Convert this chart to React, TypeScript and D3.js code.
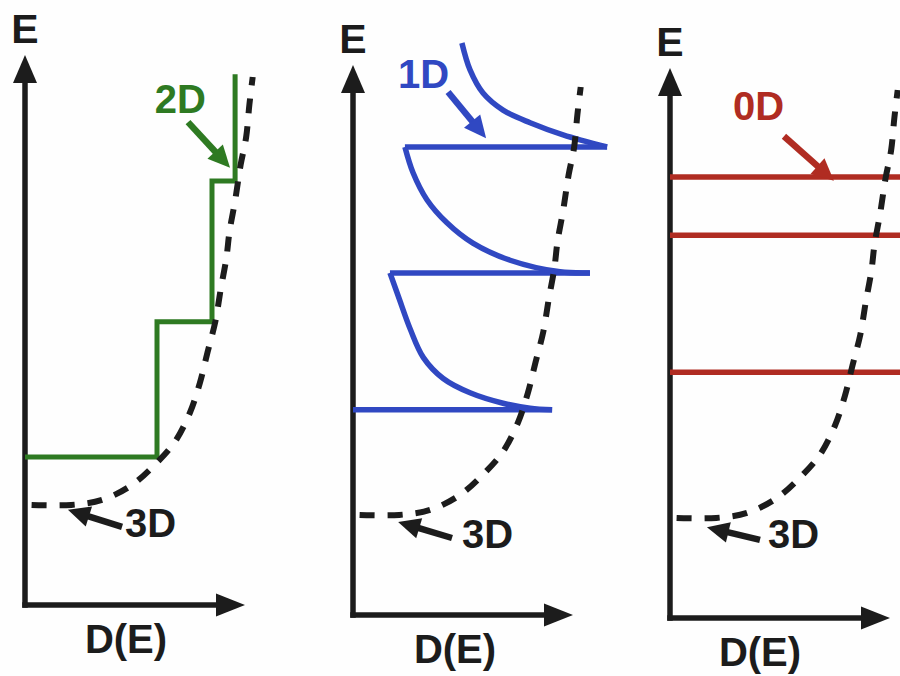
import React from "react";
import * as d3 from "d3";

const W = 900;
const H = 676;

// every panel: D(E) axis 0..10, E axis 0..10
// 3D density of states [D, E] (same shape in each panel)
const dos3D = [
  [0.3, 1.82], [2.1, 1.82], [3.5, 1.91], [4.85, 2.18], [5.9, 2.55], [6.8, 2.96],
  [7.5, 3.5], [7.95, 4.04], [8.3, 4.6], [8.65, 5.15], [8.9, 5.75], [9.15, 6.3],
  [9.3, 6.8], [9.55, 7.35], [9.8, 8.0], [10.05, 8.5], [10.2, 9.1], [10.35, 9.6],
];

// 2D: step edges and step widths
const stepE = [2.69, 5.15, 7.71];
const stepD = [6.0, 8.5, 9.55];
const stepTopE = 9.65;

// 1D: subband energies, where each flat line starts and ends
const bandE = [3.73, 6.22, 8.51];
const bandStartD = [0, 1.68, 2.36];
const bandEndD = [9.05, 10.77, 11.55];
// 1D tails above each subband [D, E]
const tails1D = [
  [[9.05, 3.73], [8.05, 3.76], [6.82, 3.85], [5.32, 4.04], [4.1, 4.3], [3.2, 4.68], [2.6, 5.2], [2.1, 5.75], [1.68, 6.22]],
  [[10.77, 6.22], [9.41, 6.24], [7.14, 6.45], [5.45, 6.76], [4.27, 7.13], [3.36, 7.55], [2.73, 8.04], [2.36, 8.51]],
  [[11.55, 8.51], [9.55, 8.73], [8.05, 8.95], [6.82, 9.18], [5.91, 9.49], [5.32, 9.91], [4.95, 10.4]],
];

// 0D: discrete levels
const levels0D = [4.47, 6.96, 8.02];

// labels: text, text anchor [D, E], arrow from [D, E] to [D, E]
const labels = [
  [
    { text: "2D", at: [5.9, 8.95], from: [7.41, 8.78], to: [9.32, 7.95], kind: "2D" },
    { text: "3D", at: [4.55, 1.24], from: [4.41, 1.42], to: [1.95, 1.73], kind: "3D" },
  ],
  [
    { text: "1D", at: [2.05, 9.58], from: [4.32, 9.51], to: [6.05, 8.67], kind: "1D" },
    { text: "3D", at: [4.95, 1.22], from: [4.5, 1.4], to: [2.05, 1.69], kind: "3D" },
  ],
  [
    { text: "0D", at: [2.86, 9.05], from: [5.18, 8.76], to: [7.45, 7.95], kind: "0D" },
    { text: "3D", at: [4.45, 1.27], from: [4.09, 1.42], to: [1.68, 1.65], kind: "3D" },
  ],
];

const colors: Record<string, string> = {
  "3D": "#1c1c1c",
  "2D": "#2e7a22",
  "1D": "#3048c2",
  "0D": "#b02c22",
};

const panels = [
  { ox: 25, oy: 605, labelDx: 101 },
  { ox: 353, oy: 615, labelDx: 102 },
  { ox: 670, oy: 618, labelDx: 90 },
];

const font = "'Liberation Sans', Arial, sans-serif";

function arrow(x1: number, y1: number, x2: number, y2: number, len: number, hw: number) {
  const a = Math.atan2(y2 - y1, x2 - x1);
  const bx = x2 - len * Math.cos(a);
  const by = y2 - len * Math.sin(a);
  const px = -Math.sin(a) * hw;
  const py = Math.cos(a) * hw;
  return {
    shaft: [x1, y1, bx + Math.cos(a) * 2, by + Math.sin(a) * 2],
    head: `${x2},${y2} ${bx + px},${by + py} ${bx - px},${by - py}`,
  };
}

function Arrow({ x1, y1, x2, y2, color, width, len, hw }: any) {
  const a = arrow(x1, y1, x2, y2, len, hw);
  return (
    <g>
      <line x1={a.shaft[0]} y1={a.shaft[1]} x2={a.shaft[2]} y2={a.shaft[3]} stroke={color} strokeWidth={width} />
      <polygon points={a.head} fill={color} />
    </g>
  );
}

function Panel({ idx }: { idx: number }) {
  const { ox, oy, labelDx } = panels[idx];
  const x = d3.scaleLinear().domain([0, 10]).range([ox, ox + 220]);
  const y = d3.scaleLinear().domain([0, 10]).range([oy, oy - 550]);
  const straight = d3.line<number[]>().x((d) => x(d[0])).y((d) => y(d[1]));
  const smooth = d3.line<number[]>().x((d) => x(d[0])).y((d) => y(d[1])).curve(d3.curveCatmullRom.alpha(0.5));
  const axisColor = "#1c1c1c";

  let content: React.ReactNode = null;
  if (idx === 0) {
    const pts: number[][] = [[0, stepE[0]]];
    stepE.forEach((e, i) => {
      pts.push([stepD[i], e]);
      pts.push([stepD[i], i + 1 < stepE.length ? stepE[i + 1] : stepTopE]);
    });
    content = (
      <path d={straight(pts) || ""} fill="none" stroke={colors["2D"]} strokeWidth={5} strokeLinejoin="miter" />
    );
  } else if (idx === 1) {
    content = (
      <g fill="none" stroke={colors["1D"]} strokeWidth={5.5}>
        {bandE.map((e, i) => (
          <path key={"h" + i} d={straight([[bandStartD[i], e], [bandEndD[i], e]]) || ""} />
        ))}
        {tails1D.map((t, i) => (
          <path key={"t" + i} d={smooth(t) || ""} />
        ))}
      </g>
    );
  } else {
    content = (
      <g stroke={colors["0D"]} strokeWidth={5.5}>
        {levels0D.map((e, i) => (
          <line key={i} x1={x(0)} x2={x(11)} y1={y(e)} y2={y(e)} />
        ))}
      </g>
    );
  }

  return (
    <g>
      {/* axes */}
      <Arrow x1={x(0)} y1={y(0) + 2.75} x2={x(0)} y2={y(10)} color={axisColor} width={5.5} len={28} hw={12} />
      <Arrow x1={x(0) - 2.75} y1={y(0)} x2={x(10)} y2={y(0)} color={axisColor} width={5.5} len={29} hw={11.5} />
      <text x={x(0)} y={oy - 562} textAnchor="middle" fontFamily={font} fontWeight="bold" fontSize={41} fill={axisColor}>
        E
      </text>
      <text x={ox + labelDx} y={oy + 48} textAnchor="middle" fontFamily={font} fontWeight="bold" fontSize={40} fill={axisColor}>
        D(E)
      </text>
      {content}
      <path
        d={smooth(dos3D) || ""}
        fill="none"
        stroke={colors["3D"]}
        strokeWidth={6}
        strokeDasharray="15 13"
      />
      {labels[idx].map((l, i) => (
        <g key={i}>
          <text x={x(l.at[0])} y={y(l.at[1])} fontFamily={font} fontWeight="bold" fontSize={40} fill={colors[l.kind]}>
            {l.text}
          </text>
          <Arrow
            x1={x(l.from[0])}
            y1={y(l.from[1])}
            x2={x(l.to[0])}
            y2={y(l.to[1])}
            color={colors[l.kind]}
            width={6.5}
            len={22}
            hw={10.5}
          />
        </g>
      ))}
    </g>
  );
}

export default function App() {
  return (
    <svg
      width={W}
      height={H}
      viewBox={`0 0 ${W} ${H}`}
      style={{ position: "absolute", left: 0, top: 0, background: "#fefefe" }}
    >
      {panels.map((_, i) => (
        <Panel key={i} idx={i} />
      ))}
    </svg>
  );
}
